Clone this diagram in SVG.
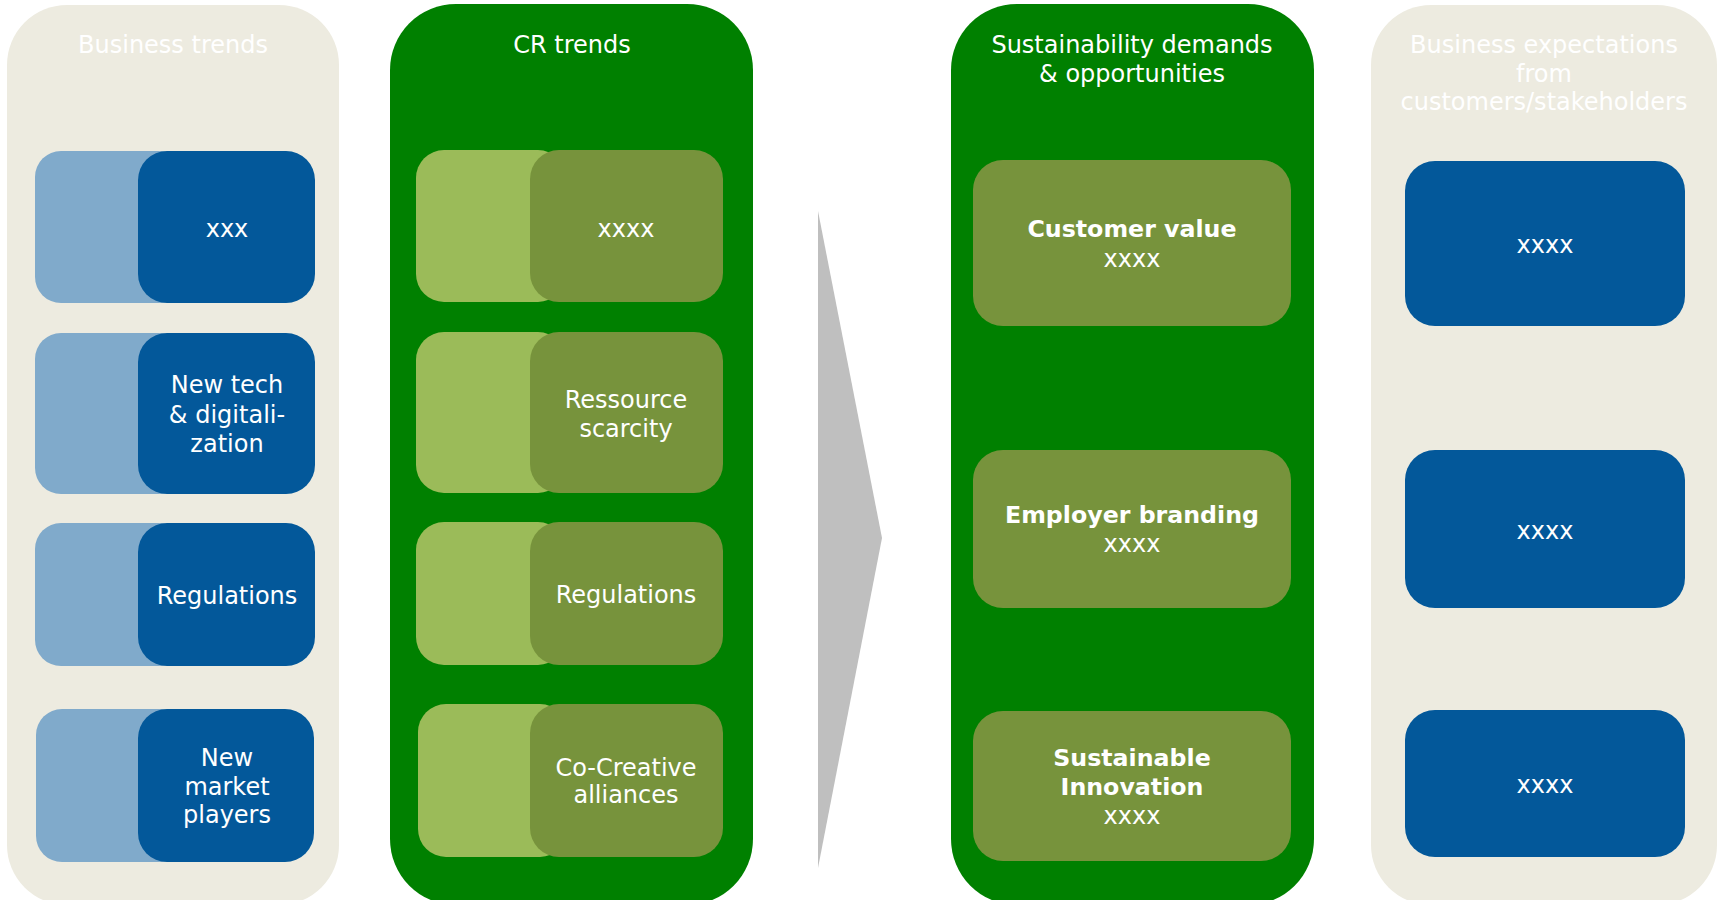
<svg xmlns="http://www.w3.org/2000/svg" width="1723" height="900" viewBox="0 0 1723 900">
<style>
text{font-family:"DejaVu Sans","Verdana",sans-serif;font-size:24px;fill:#FFFFFF;text-anchor:middle}
.b{font-weight:bold;font-size:23.7px}
.beige{fill:#EDEBE0}
.green{fill:#008000}
.lb{fill:#80AACB}
.db{fill:#03589A}
.lg{fill:#9BBB59}
.ol{fill:#77933C}
</style>
<rect x="0" y="0" width="1723" height="900" fill="#FFFFFF"/>
<g id="panel-business-trends">
<rect class="beige" x="7" y="5" width="332" height="900" rx="60" ry="60"/>
<text x="173" y="53">Business trends</text>
</g>
<g id="panel-cr-trends">
<rect class="green" x="390" y="4" width="363" height="901" rx="66" ry="66"/>
<text x="572" y="53">CR trends</text>
</g>
<g id="panel-sustainability">
<rect class="green" x="951" y="4" width="363" height="901" rx="66" ry="66"/>
<text x="1132" y="53">Sustainability demands</text>
<text x="1132" y="82">&amp; opportunities</text>
</g>
<g id="panel-expectations">
<rect class="beige" x="1371" y="5" width="346" height="900" rx="60" ry="60"/>
<text x="1544" y="53">Business expectations</text>
<text x="1544" y="82">from</text>
<text x="1544" y="110">customers/stakeholders</text>
</g>
<g id="bt-1">
<rect class="lb" x="35" y="151" width="150" height="152" rx="26"/>
<rect class="db" x="138" y="151" width="177" height="152" rx="29"/>
<text x="227" y="237">xxx</text>
</g>
<g id="bt-2">
<rect class="lb" x="35" y="333" width="150" height="161" rx="26"/>
<rect class="db" x="138" y="333" width="177" height="161" rx="29"/>
<text x="227" y="393">New tech</text>
<text x="227" y="423">&amp; digitali-</text>
<text x="227" y="452">zation</text>
</g>
<g id="bt-3">
<rect class="lb" x="35" y="523" width="150" height="143" rx="26"/>
<rect class="db" x="138" y="523" width="177" height="143" rx="29"/>
<text x="227" y="604">Regulations</text>
</g>
<g id="bt-4">
<rect class="lb" x="36" y="709" width="150" height="153" rx="26"/>
<rect class="db" x="138" y="709" width="176" height="153" rx="29"/>
<text x="227" y="766">New</text>
<text x="227" y="795">market</text>
<text x="227" y="823">players</text>
</g>
<g id="cr-1">
<rect class="lg" x="416" y="150" width="150" height="152" rx="28"/>
<rect class="ol" x="530" y="150" width="193" height="152" rx="29"/>
<text x="626" y="237">xxxx</text>
</g>
<g id="cr-2">
<rect class="lg" x="416" y="332" width="150" height="161" rx="28"/>
<rect class="ol" x="530" y="332" width="193" height="161" rx="29"/>
<text x="626" y="408">Ressource</text>
<text x="626" y="437">scarcity</text>
</g>
<g id="cr-3">
<rect class="lg" x="416" y="522" width="150" height="143" rx="28"/>
<rect class="ol" x="530" y="522" width="193" height="143" rx="29"/>
<text x="626" y="603">Regulations</text>
</g>
<g id="cr-4">
<rect class="lg" x="418" y="704" width="150" height="153" rx="28"/>
<rect class="ol" x="530" y="704" width="193" height="153" rx="29"/>
<text x="626" y="776">Co-Creative</text>
<text x="626" y="803">alliances</text>
</g>
<g id="arrow">
<polygon points="818,211 882,538 818,868" fill="#BFBFBF"/>
</g>
<g id="sd-1">
<rect class="ol" x="973" y="160" width="318" height="166" rx="30"/>
<text class="b" x="1132" y="237">Customer value</text>
<text x="1132" y="267">xxxx</text>
</g>
<g id="sd-2">
<rect class="ol" x="973" y="450" width="318" height="158" rx="30"/>
<text class="b" x="1132" y="523">Employer branding</text>
<text x="1132" y="552">xxxx</text>
</g>
<g id="sd-3">
<rect class="ol" x="973" y="711" width="318" height="150" rx="30"/>
<text class="b" x="1132" y="766">Sustainable</text>
<text class="b" x="1132" y="795">Innovation</text>
<text x="1132" y="824">xxxx</text>
</g>
<g id="ex-1">
<rect class="db" x="1405" y="161" width="280" height="165" rx="30"/>
<text x="1545" y="253">xxxx</text>
</g>
<g id="ex-2">
<rect class="db" x="1405" y="450" width="280" height="158" rx="30"/>
<text x="1545" y="539">xxxx</text>
</g>
<g id="ex-3">
<rect class="db" x="1405" y="710" width="280" height="147" rx="30"/>
<text x="1545" y="793">xxxx</text>
</g>
<g id="connectors"></g>
</svg>
